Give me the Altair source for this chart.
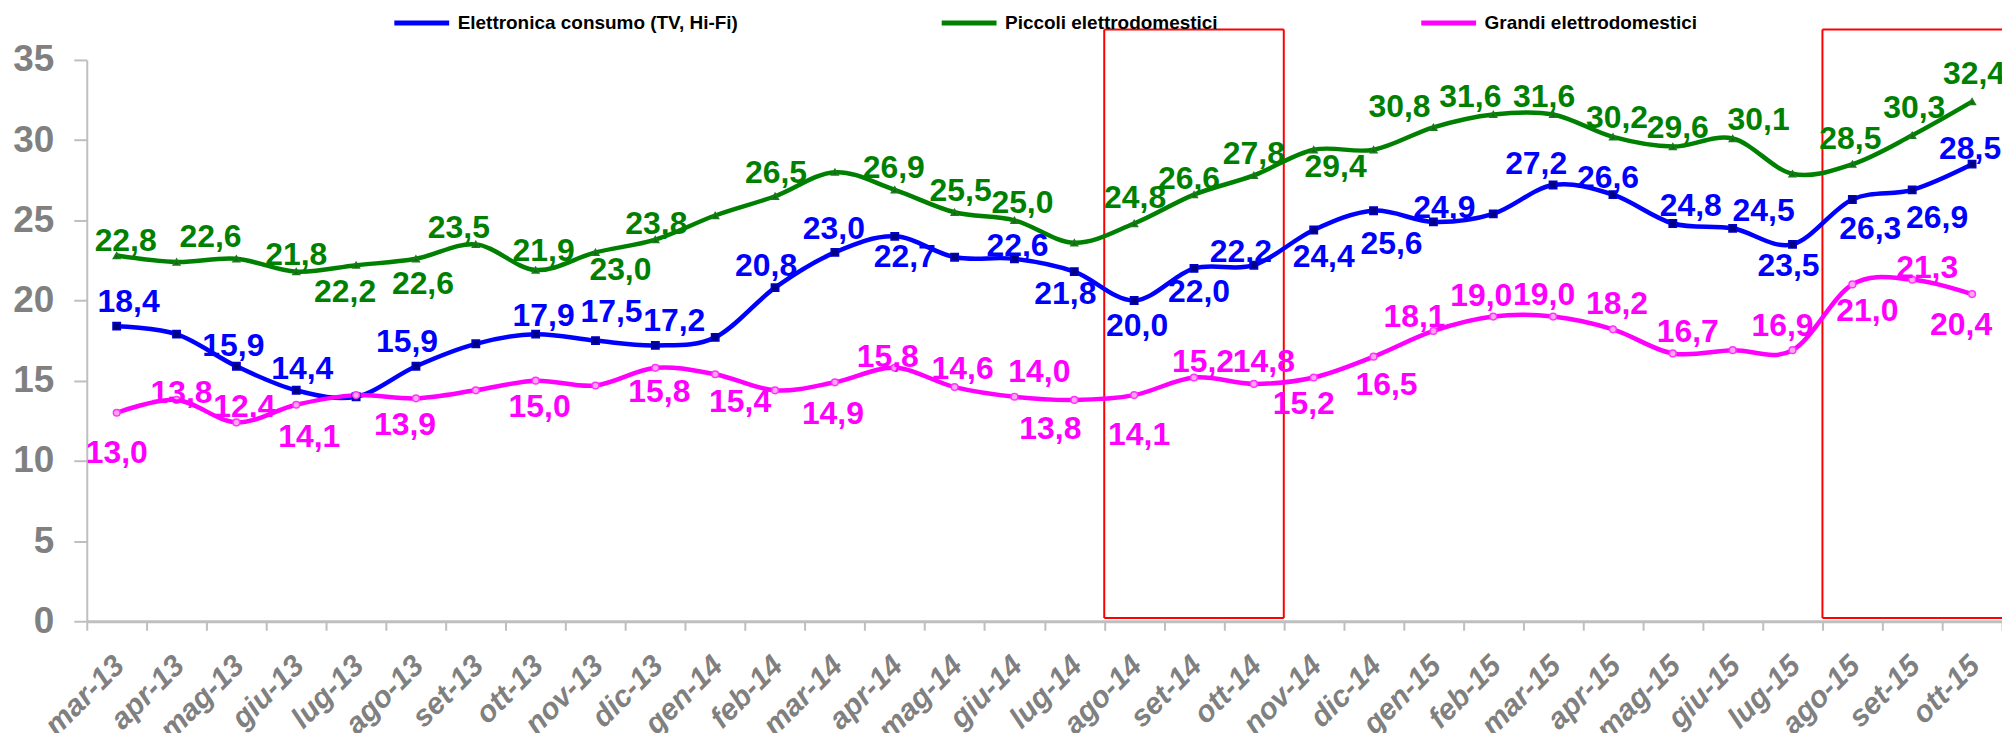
import altair as alt
import pandas as pd

# ---------------- data ----------------
months = ["mar-13", "apr-13", "mag-13", "giu-13", "lug-13", "ago-13", "set-13", "ott-13",
          "nov-13", "dic-13", "gen-14", "feb-14", "mar-14", "apr-14", "mag-14", "giu-14",
          "lug-14", "ago-14", "set-14", "ott-14", "nov-14", "dic-14", "gen-15", "feb-15",
          "mar-15", "apr-15", "mag-15", "giu-15", "lug-15", "ago-15", "set-15", "ott-15"]

series_names = ["Elettronica consumo (TV, Hi-Fi)", "Piccoli elettrodomestici", "Grandi elettrodomestici"]

elettronica = [18.4, 17.9, 15.9, 14.4, 14.0, 15.9, 17.3, 17.9, 17.5, 17.2, 17.7, 20.8, 23.0, 24.0, 22.7, 22.6,
               21.8, 20.0, 22.0, 22.2, 24.4, 25.6, 24.9, 25.4, 27.2, 26.6, 24.8, 24.5, 23.5, 26.3, 26.9, 28.5]
piccoli = [22.8, 22.4, 22.6, 21.8, 22.2, 22.6, 23.5, 21.9, 23.0, 23.8, 25.3, 26.5, 28.0, 26.9, 25.5, 25.0,
           23.6, 24.8, 26.6, 27.8, 29.4, 29.4, 30.8, 31.6, 31.6, 30.2, 29.6, 30.1, 27.9, 28.5, 30.3, 32.4]
grandi = [13.0, 13.8, 12.4, 13.5, 14.1, 13.9, 14.4, 15.0, 14.7, 15.8, 15.4, 14.4, 14.9, 15.8, 14.6, 14.0,
          13.8, 14.1, 15.2, 14.8, 15.2, 16.5, 18.1, 19.0, 19.0, 18.2, 16.7, 16.9, 16.9, 21.0, 21.3, 20.4]

# highlighted periods (red frames)
highlights = [("ago-14", "ott-14"), ("ago-15", "ott-15")]

# ---------------- label layout (pixel nudges of each shown value label) ----------------
label_nudges = {
    series_names[0]: {0: (12, -24), 2: (-3, -20), 3: (6, -21), 5: (-9, -24), 7: (8, -18), 8: (16, -29),
                      9: (19, -24), 11: (-9, -22), 12: (-1, -23), 14: (-50, 0), 15: (3, -13), 16: (-9, 22),
                      17: (3, 26), 18: (5, 24), 19: (-13, -13), 20: (10, 27), 21: (18, 33), 22: (11, -14),
                      24: (-17, -21), 25: (-5, -17), 26: (18, -18), 27: (31, -17), 28: (-4, 22),
                      29: (18, 30), 30: (25, 28), 31: (-2, -15)},
    series_names[1]: {0: (9, -15), 2: (-26, -22), 3: (0, -17), 4: (-11, 27), 5: (7, 25), 6: (-17, -16),
                      7: (8, -19), 8: (25, 18), 9: (1, -16), 11: (1, -23), 13: (-1, -22), 14: (6, -21),
                      15: (8, -17), 17: (1, -26), 18: (-5, -16), 19: (0, -21), 20: (22, 17), 22: (-34, -20),
                      23: (-23, -17), 24: (-9, -17), 25: (4, -19), 26: (5, -19), 27: (26, -19),
                      29: (-2, -25), 30: (2, -27), 31: (2, -28)},
    series_names[2]: {0: (0, 40), 1: (5, -7), 2: (8, -15), 4: (-47, 42), 5: (-11, 27), 7: (4, 26),
                      9: (4, 24), 10: (25, 28), 12: (-2, 32), 13: (-7, -11), 14: (8, -18), 15: (25, -25),
                      16: (-24, 29), 17: (5, 40), 18: (9, -15), 19: (10, -22), 20: (-10, 27), 21: (13, 28),
                      22: (-19, -14), 23: (-12, -21), 24: (-9, -22), 25: (4, -25), 26: (15, -21),
                      28: (-10, -24), 29: (15, 27), 30: (15, -12), 31: (-11, 31)},
}

line_colors = ["#0000FF", "#008000", "#FF00FF"]
marker_styles = [
    {"shape": "square", "fill": "#000080", "stroke": "#0000CC", "size": 55},
    {"shape": "triangle-up", "fill": "#0B6E0B", "stroke": "#1E7A1E", "size": 45},
    {"shape": "circle", "fill": "#FFA6EE", "stroke": "#FF33FF", "size": 45},
]

BASE_FONT = "Liberation Sans, Arial, sans-serif"

W, H = 1921, 563
Y_MAX = 35
BAND_PX = W / len(months)
PX_PER_UNIT = H / Y_MAX

# ---------------- tables ----------------
rows = []
for name, vals in zip(series_names, [elettronica, piccoli, grandi]):
    for m, v in zip(months, vals):
        rows.append({"month": m, "series": name, "value": v})
df = pd.DataFrame(rows)

lab_rows = []
for name, vals in zip(series_names, [elettronica, piccoli, grandi]):
    for i, (dx, dy) in label_nudges[name].items():
        lab_rows.append({"series": name,
                         "xq": i + 0.5 + dx / BAND_PX,
                         "yq": vals[i] - dy / PX_PER_UNIT,
                         "label": f"{vals[i]:.1f}".replace(".", ",")})
lab_df = pd.DataFrame(lab_rows)

BOX_TOP, BOX_BOTTOM = 36.9, 0.2
seg = []
for s, e in highlights:
    a, b = months.index(s), months.index(e) + 1
    seg.append({"x0": a, "x1": a, "y0": BOX_BOTTOM, "y1": BOX_TOP})
    seg.append({"x0": a, "x1": b, "y0": BOX_TOP, "y1": BOX_TOP})
    seg.append({"x0": a, "x1": b, "y0": BOX_BOTTOM, "y1": BOX_BOTTOM})
    if b < len(months):
        seg.append({"x0": b, "x1": b, "y0": BOX_BOTTOM, "y1": BOX_TOP})
box_df = pd.DataFrame(seg)

# ---------------- scales / axes ----------------
xscale = alt.Scale(type="band", domain=months, paddingInner=0, paddingOuter=0)
xq_scale = alt.Scale(domain=[0, len(months)], nice=False, zero=False)
yscale = alt.Scale(domain=[0, Y_MAX], nice=False, zero=True)

xaxis = alt.Axis(title=None, tickBand="extent", labelAngle=-45, labelAlign="right", labelBaseline="top",
                 labelFont=BASE_FONT, labelFontStyle="italic", labelFontWeight="bold", labelFontSize=30,
                 labelColor="#808080", labelPadding=20, labelOffset=-8, labelOverlap=False, tickSize=9,
                 tickWidth=2, tickColor="#BFBFBF", domainColor="#BFBFBF", domainWidth=3, grid=False)
yaxis = alt.Axis(title=None, values=[0, 5, 10, 15, 20, 25, 30, 35], grid=False, labelFont=BASE_FONT,
                 labelFontSize=37, labelFontWeight="bold", labelColor="#808080", labelPadding=20,
                 tickSize=13, tickWidth=2, tickColor="#BFBFBF", domainColor="#BFBFBF", domainWidth=2)

X = alt.X("month:N", scale=xscale, axis=xaxis, bandPosition=0.5, sort=months)
Y = alt.Y("value:Q", scale=yscale, axis=yaxis)

legend = alt.Legend(title=None, orient="none", legendX=306, legendY=-67, direction="horizontal",
                    symbolType="M-1,0H1", symbolSize=3025, symbolStrokeWidth=5,
                    labelFont=BASE_FONT, labelFontSize=19, labelFontWeight="bold", labelColor="#000000",
                    labelLimit=600, labelOffset=6, columnPadding=193)

color = alt.Color("series:N", scale=alt.Scale(domain=series_names, range=line_colors), legend=legend)

lines = alt.Chart(df).mark_line(interpolate="cardinal", strokeWidth=4.5).encode(x=X, y=Y, color=color)

point_layers = []
for name, st in zip(series_names, marker_styles):
    point_layers.append(
        alt.Chart(df).transform_filter(alt.datum.series == name).mark_point(
            shape=st["shape"], fill=st["fill"], stroke=st["stroke"], size=st["size"],
            strokeWidth=1.5, opacity=1, fillOpacity=1, filled=True
        ).encode(x=X, y=Y)
    )

inner = alt.layer(lines, *point_layers)

labels = alt.Chart(lab_df).mark_text(font=BASE_FONT, fontSize=32, fontWeight="bold",
                                     align="center", baseline="middle").encode(
    x=alt.X("xq:Q", scale=xq_scale, axis=None),
    y=alt.Y("yq:Q", scale=yscale, axis=yaxis),
    text="label:N",
    color=alt.Color("series:N", scale=alt.Scale(domain=series_names, range=line_colors), legend=None),
)

boxes = alt.Chart(box_df).mark_rule(color="#FF0000", strokeWidth=2).encode(
    x=alt.X("x0:Q", scale=xq_scale, axis=None),
    x2="x1:Q",
    y=alt.Y("y0:Q", scale=yscale, axis=yaxis),
    y2="y1:Q",
)

chart = alt.layer(boxes, inner, labels).resolve_scale(x="independent").properties(
    width=W, height=H,
    autosize=alt.AutoSizeParams(type="none"),
    padding={"left": 79, "top": 51, "right": 0, "bottom": 111},
    background="white",
).configure_view(stroke=None)

chart.save("out.html", embed_options={"renderer": "svg", "actions": False})
